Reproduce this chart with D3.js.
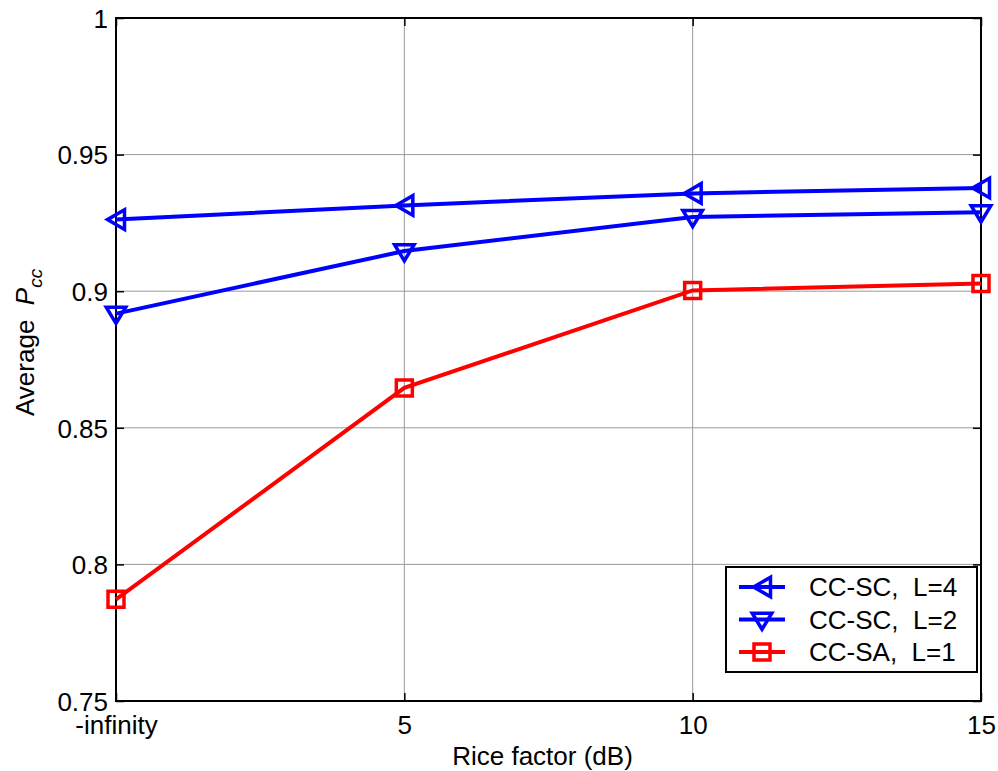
<!DOCTYPE html>
<html>
<head>
<meta charset="utf-8">
<script src="https://cdnjs.cloudflare.com/ajax/libs/d3/7.8.5/d3.min.js"></script>
<style>
  body { margin: 0; background: #fff; }
  text { font-family: "Liberation Sans", Arial, sans-serif; fill: #000; }
</style>
</head>
<body>
<div class="chart"></div>
<script>
// data
var categories = ["-infinity", "5", "10", "15"];
var ccsc4 = [0.9262, 0.9314, 0.9358, 0.9378];
var ccsc2 = [0.8918, 0.9147, 0.9272, 0.9289];
var ccsa1 = [0.7872, 0.8646, 0.9003, 0.9028];
var yTicks = [0.75, 0.8, 0.85, 0.9, 0.95, 1];
var seriesNames = ["CC-SC,  L=4", "CC-SC,  L=2", "CC-SA,  L=1"];

var margin = {top: 18, right: 17, bottom: 70, left: 116},
    width = 998 - margin.left - margin.right,
    height = 771 - margin.top - margin.bottom;

var svg = d3.select(".chart")
    .append("svg")
    .attr("width", 998)
    .attr("height", 771)
  .append("g")
    .attr("transform", "translate(" + margin.left + "," + margin.top + ")");

var x = d3.scalePoint()
    .domain(categories)
    .range([0, width]);

var y = d3.scaleLinear()
    .domain([0.75, 1])
    .range([height, 0]);

// grid
svg.append("g")
    .attr("class", "grid")
  .selectAll("line")
    .data(yTicks)
  .enter().append("line")
    .attr("x1", 0)
    .attr("x2", width)
    .attr("y1", function(d) { return y(d); })
    .attr("y2", function(d) { return y(d); })
    .style("stroke", "#9a9a9a")
    .style("stroke-width", 1);

svg.append("g")
    .attr("class", "grid")
  .selectAll("line")
    .data(categories)
  .enter().append("line")
    .attr("x1", function(d) { return x(d); })
    .attr("x2", function(d) { return x(d); })
    .attr("y1", 0)
    .attr("y2", height)
    .style("stroke", "#9a9a9a")
    .style("stroke-width", 1);

// axes with inward ticks
var fontSize = 26;

var xAxis = svg.append("g")
    .attr("transform", "translate(0," + height + ")")
    .call(d3.axisBottom(x).tickSize(-8).tickPadding(15));

var yAxis = svg.append("g")
    .call(d3.axisLeft(y).tickValues(yTicks).tickSize(-8).tickPadding(8)
      .tickFormat(function(d) { return d3.format("")(+d.toFixed(2)); }));

var xTop = svg.append("g")
    .call(d3.axisTop(x).tickSize(-8).tickFormat(""));

var yRight = svg.append("g")
    .attr("transform", "translate(" + width + ",0)")
    .call(d3.axisRight(y).tickValues(yTicks).tickSize(-8).tickFormat(""));

[xAxis, yAxis, xTop, yRight].forEach(function(a) {
  a.select(".domain").remove();
  a.selectAll(".tick line").style("stroke", "#000").style("stroke-width", 1.5);
  a.selectAll(".tick text")
      .style("font-size", fontSize + "px")
      .style("font-family", "'Liberation Sans', Arial, sans-serif");
});

yAxis.selectAll(".tick text").attr("dy", "0.36em");
xAxis.selectAll(".tick text").attr("dy", "0.71em");

svg.append("rect")
    .attr("width", width)
    .attr("height", height)
    .style("fill", "none")
    .style("stroke", "#000")
    .style("stroke-width", 2);

// markers
function triLeft(s) {
  return "M" + (-s) + ",0L" + s + "," + (-s * 1.15) + "L" + s + "," + (s * 1.15) + "Z";
}
function triDown(s) {
  return "M" + (-s * 1.15) + "," + (-s * 0.75) + "L" + (s * 1.15) + "," + (-s * 0.75) + "L0," + (s * 1.15) + "Z";
}
function square(s) {
  return "M" + (-s) + "," + (-s) + "H" + s + "V" + s + "H" + (-s) + "Z";
}

var series = [
  {name: seriesNames[0], values: ccsc4, color: "#0000ff", marker: triLeft(8.5)},
  {name: seriesNames[1], values: ccsc2, color: "#0000ff", marker: triDown(8.5)},
  {name: seriesNames[2], values: ccsa1, color: "#ff0000", marker: square(8)}
];

var line = d3.line()
    .x(function(d, i) { return x(categories[i]); })
    .y(function(d) { return y(d); });

series.slice().reverse().forEach(function(s) {
  var g = svg.append("g");
  g.append("path")
      .datum(s.values)
      .attr("d", line)
      .style("fill", "none")
      .style("stroke", s.color)
      .style("stroke-width", 4);
  g.selectAll(".mk")
      .data(s.values)
    .enter().append("path")
      .attr("class", "mk")
      .attr("d", s.marker)
      .attr("transform", function(d, i) { return "translate(" + x(categories[i]) + "," + y(d) + ")"; })
      .style("fill", "none")
      .style("stroke", s.color)
      .style("stroke-width", 3.5);
});

// legend
var lx = 610, ly = 549, lw = 251, lh = 105;

var legend = svg.append("g")
    .attr("class", "legend")
    .attr("transform", "translate(" + lx + "," + ly + ")");

legend.append("rect")
    .attr("width", lw)
    .attr("height", lh)
    .style("fill", "#fff")
    .style("stroke", "#000")
    .style("stroke-width", 2);

var item = legend.selectAll(".item")
    .data(series)
  .enter().append("g")
    .attr("class", "item")
    .attr("transform", function(d, i) { return "translate(0," + (20 + i * 32.5) + ")"; });

item.append("line")
    .attr("x1", 13)
    .attr("x2", 59)
    .style("stroke", function(d) { return d.color; })
    .style("stroke-width", 4);

item.append("path")
    .attr("d", function(d) { return d.marker; })
    .attr("transform", "translate(36,0)")
    .style("fill", "none")
    .style("stroke", function(d) { return d.color; })
    .style("stroke-width", 3.5);

item.append("text")
    .attr("x", 83)
    .attr("dy", "0.36em")
    .style("font-size", fontSize + "px")
    .style("white-space", "pre")
    .text(function(d) { return d.name; });

// axis titles
svg.append("text")
    .attr("x", width / 2 - 6)
    .attr("y", height + 64)
    .attr("text-anchor", "middle")
    .style("font-size", fontSize + "px")
    .text("Rice factor (dB)");

var yt = svg.append("text")
    .attr("transform", "translate(" + (34 - margin.left) + "," + (416 - margin.top) + ") rotate(-90)")
    .style("font-size", fontSize + "px")
    .style("white-space", "pre");

yt.append("tspan").text("Average  ");
yt.append("tspan").style("font-style", "italic").text("P");
yt.append("tspan")
    .attr("dy", 8)
    .style("font-size", "19px")
    .style("font-style", "italic")
    .text("cc");
</script>
</body>
</html>
